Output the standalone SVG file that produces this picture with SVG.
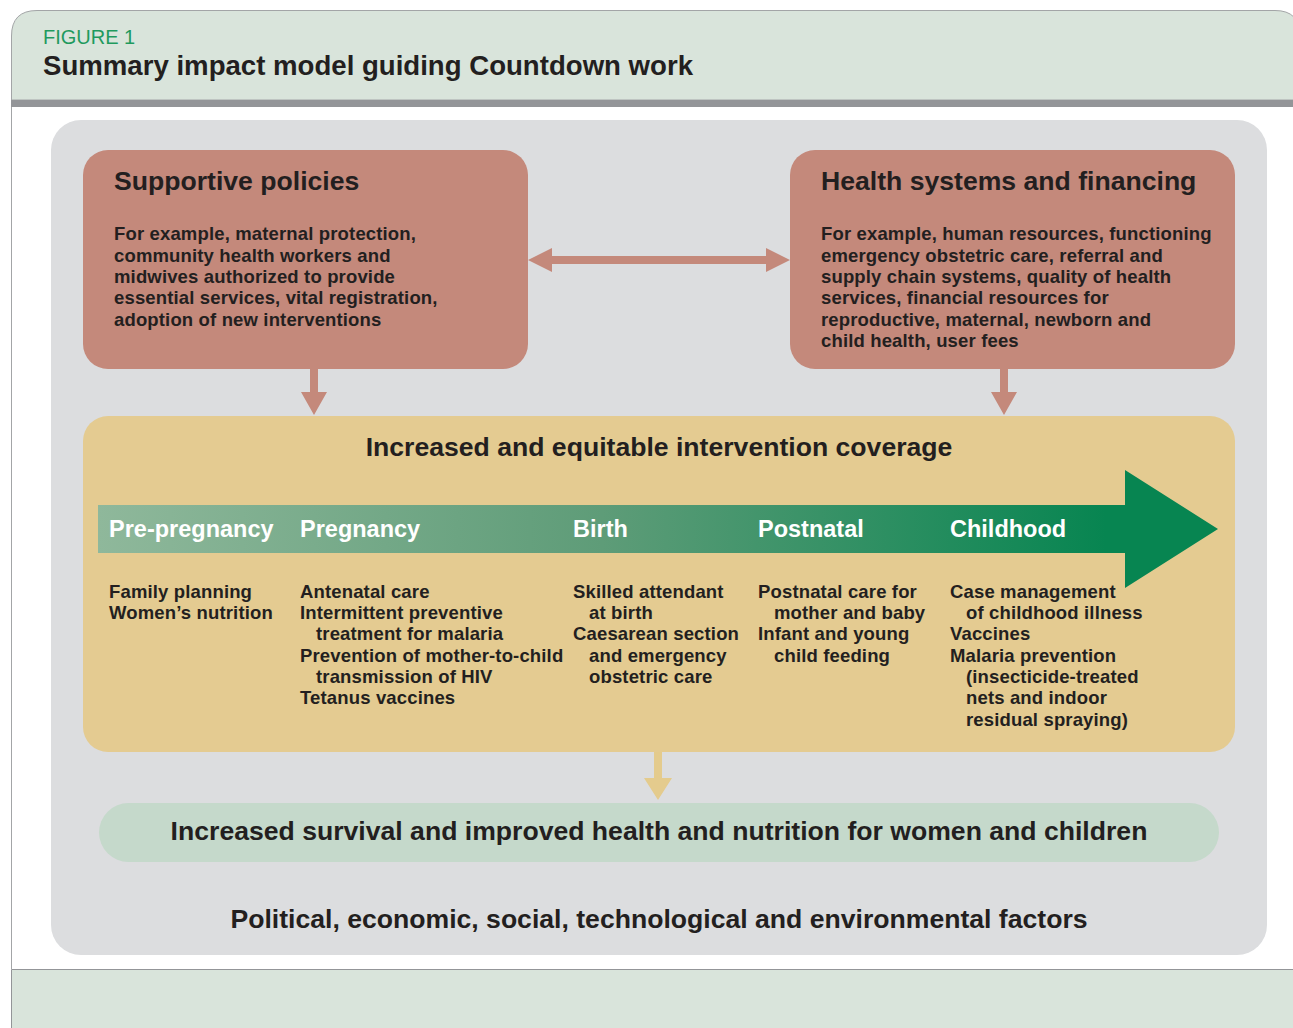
<svg xmlns="http://www.w3.org/2000/svg" width="1293" height="1028" viewBox="0 0 1293 1028">
<defs>
<style>
text{font-family:"Liberation Sans",Arial,sans-serif;font-weight:bold;fill:#231f20}
.t{font-size:26.6px}
.ttl{font-size:27.6px}
.b{font-size:18.5px;letter-spacing:0.15px}
.band{font-size:23.5px;fill:#ffffff}
.fig{font-size:20px;font-weight:normal;fill:#1f9a5e}
.node{fill:#c4897b}
</style>
<linearGradient id="g" x1="98" y1="0" x2="1218" y2="0" gradientUnits="userSpaceOnUse">
<stop offset="0" stop-color="#8fb89b"/>
<stop offset="0.45" stop-color="#5e9c78"/>
<stop offset="0.9" stop-color="#078551"/>
<stop offset="1" stop-color="#078551"/>
</linearGradient>
</defs>
<rect width="1293" height="1028" fill="#ffffff"/>
<g id="frame">
<path d="M11.5,100 V36 Q11.5,10.5 37,10.5 H1275 Q1300,10.5 1300,36 V100 Z" fill="#d9e4db" stroke="#a3a5a7" stroke-width="1"/>
<rect x="11" y="100" width="1290" height="7" fill="#939598"/>
<line x1="11.5" y1="107" x2="11.5" y2="969" stroke="#a3a5a7" stroke-width="1"/>
<path d="M11.5,969.5 H1300 V1040 H11.5 Z" fill="#d9e4db" stroke="#939598" stroke-width="1"/>
<text x="43" y="44" class="fig">FIGURE 1</text>
<text x="43" y="75" class="ttl">Summary impact model guiding Countdown work</text>
</g>
<g id="context">
<rect x="51" y="120" width="1216" height="835" rx="30" fill="#dcdddf"/>
<text x="659" y="928" class="t" text-anchor="middle">Political, economic, social, technological and environmental factors</text>
</g>
<g id="connectors">
<path d="M528,260 L552,248 V256 H766 V248 L790,260 L766,272 V264 H552 V272 Z" fill="#c4897b"/>
<path d="M310,369 H318 V392 H327 L314,415 L301,392 H310 Z" fill="#c4897b"/>
<path d="M1000,369 H1008 V392 H1017 L1004,415 L991,392 H1000 Z" fill="#c4897b"/>
<path d="M654,752 H662 V778 H672 L658,800 L644,778 H654 Z" fill="#e4cb8d"/>
</g>
<g id="supportive-policies">
<rect x="83" y="150" width="445" height="219" rx="25" class="node"/>
<text x="114" y="190" class="t">Supportive policies</text>
<text class="b"><tspan x="114" y="240">For example, maternal protection,</tspan><tspan x="114" y="262">community health workers and</tspan><tspan x="114" y="283">midwives authorized to provide</tspan><tspan x="114" y="304">essential services, vital registration,</tspan><tspan x="114" y="326">adoption of new interventions</tspan></text>
</g>
<g id="health-systems">
<rect x="790" y="150" width="445" height="219" rx="25" class="node"/>
<text x="821" y="190" class="t">Health systems and financing</text>
<text class="b"><tspan x="821" y="240">For example, human resources, functioning</tspan><tspan x="821" y="262">emergency obstetric care, referral and</tspan><tspan x="821" y="283">supply chain systems, quality of health</tspan><tspan x="821" y="304">services, financial resources for</tspan><tspan x="821" y="326">reproductive, maternal, newborn and</tspan><tspan x="821" y="347">child health, user fees</tspan></text>
</g>
<g id="coverage">
<rect x="83" y="416" width="1152" height="336" rx="25" fill="#e4cb91"/>
<text x="659" y="456" class="t" text-anchor="middle">Increased and equitable intervention coverage</text>
<path d="M98,505 H1125 V470 L1218,529 L1125,588 V553 H98 Z" fill="url(#g)"/>
<text class="band"><tspan x="109" y="537">Pre-pregnancy</tspan><tspan x="300" y="537">Pregnancy</tspan><tspan x="573" y="537">Birth</tspan><tspan x="758" y="537">Postnatal</tspan><tspan x="950" y="537">Childhood</tspan></text>
<text class="b"><tspan x="109" y="598">Family planning</tspan><tspan x="109" y="619">Women’s nutrition</tspan></text>
<text class="b"><tspan x="300" y="598">Antenatal care</tspan><tspan x="300" y="619">Intermittent preventive</tspan><tspan x="316" y="640">treatment for malaria</tspan><tspan x="300" y="662">Prevention of mother-to-child</tspan><tspan x="316" y="683">transmission of HIV</tspan><tspan x="300" y="704">Tetanus vaccines</tspan></text>
<text class="b"><tspan x="573" y="598">Skilled attendant</tspan><tspan x="589" y="619">at birth</tspan><tspan x="573" y="640">Caesarean section</tspan><tspan x="589" y="662">and emergency</tspan><tspan x="589" y="683">obstetric care</tspan></text>
<text class="b"><tspan x="758" y="598">Postnatal care for</tspan><tspan x="774" y="619">mother and baby</tspan><tspan x="758" y="640">Infant and young</tspan><tspan x="774" y="662">child feeding</tspan></text>
<text class="b"><tspan x="950" y="598">Case management</tspan><tspan x="966" y="619">of childhood illness</tspan><tspan x="950" y="640">Vaccines</tspan><tspan x="950" y="662">Malaria prevention</tspan><tspan x="966" y="683">(insecticide-treated</tspan><tspan x="966" y="704">nets and indoor</tspan><tspan x="966" y="726">residual spraying)</tspan></text>
</g>
<g id="outcome">
<rect x="99" y="803" width="1120" height="59" rx="29.5" fill="#c5d9cb"/>
<text x="659" y="840" class="t" text-anchor="middle">Increased survival and improved health and nutrition for women and children</text>
</g>
</svg>
